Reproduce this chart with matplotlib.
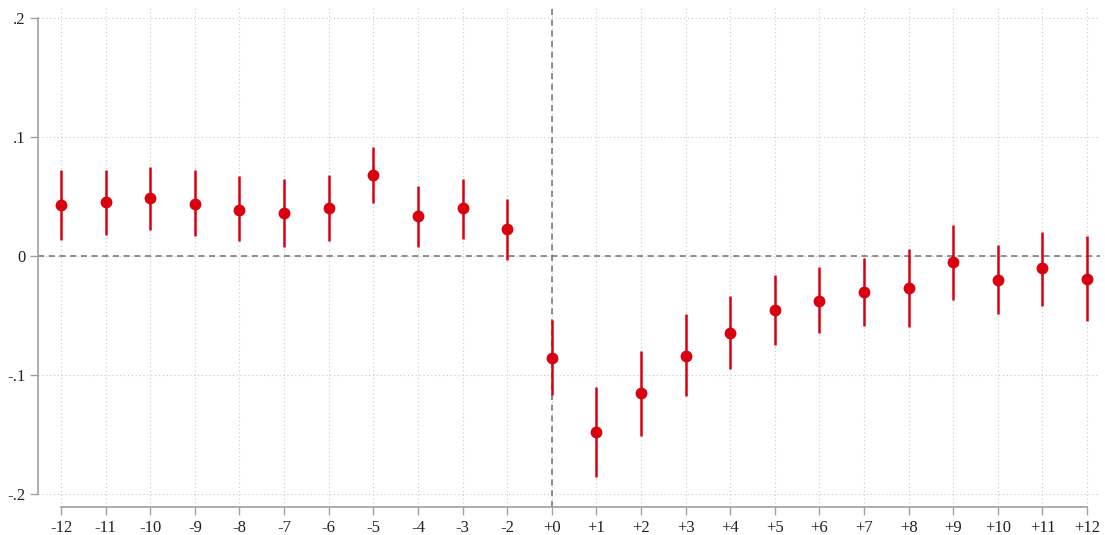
import matplotlib
matplotlib.use("Agg")
import matplotlib.pyplot as plt
import numpy as np

# event time labels (no -1, the reference period)
labels = ["-12", "-11", "-10", "-9", "-8", "-7", "-6", "-5", "-4", "-3", "-2",
          "+0", "+1", "+2", "+3", "+4", "+5", "+6", "+7", "+8", "+9", "+10", "+11", "+12"]
coef = [0.0427, 0.045, 0.0485, 0.044, 0.039, 0.036, 0.040, 0.068, 0.0335, 0.040, 0.0226,
        -0.086, -0.148, -0.1155, -0.0837, -0.0644, -0.045, -0.0377, -0.030, -0.0268,
        -0.005, -0.020, -0.010, -0.019]
ci_hi = [0.072, 0.072, 0.075, 0.072, 0.067, 0.065, 0.068, 0.092, 0.059, 0.065, 0.048,
         -0.0536, -0.110, -0.080, -0.049, -0.0335, -0.016, -0.0092, -0.0017, 0.0059,
         0.026, 0.009, 0.020, 0.0167]
ci_lo = [0.0134, 0.0176, 0.0218, 0.0167, 0.0126, 0.0075, 0.0126, 0.0443, 0.0075, 0.014, -0.0033,
         -0.117, -0.186, -0.151, -0.118, -0.0946, -0.0745, -0.065, -0.0586, -0.060,
         -0.037, -0.049, -0.042, -0.055]
yticks = [-0.2, -0.1, 0, 0.1, 0.2]
ytick_labels = ["-.2", "-.1", "0", ".1", ".2"]

plt.rcParams['font.family'] = ['Liberation Serif', 'DejaVu Serif']

x = np.arange(len(labels))
red = "#d9000f"
grey = "#a0a0a0"

fig = plt.figure(figsize=(11.05, 5.35), dpi=100)
ax = fig.add_axes([38 / 1105, 28 / 535, (1100 - 38) / 1105, (527 - 28) / 535])

ax.set_xlim(-0.516, 23.29)
ax.set_ylim(-0.2109, 0.2084)

ax.grid(True, color="#c8c8c8", linestyle=(0, (1, 2.5)), linewidth=0.8)
ax.set_axisbelow(True)

ax.axhline(0, color="#707070", linestyle=(0, (4, 3)), linewidth=1.1, zorder=1)
ax.axvline(labels.index("+0"), color="#707070", linestyle=(0, (4, 3)), linewidth=1.1, zorder=1)

ax.vlines(x, ci_lo, ci_hi, color=red, linewidth=1.8, zorder=3)
ax.plot(x, coef, "o", color=red, markersize=7.5, zorder=4)

ax.set_xticks(x)
ax.set_xticklabels(labels)
ax.set_yticks(yticks)
ax.set_yticklabels(ytick_labels)

for s in ["top", "right"]:
    ax.spines[s].set_visible(False)
ax.spines["left"].set_bounds(-0.2, 0.2)
ax.spines["bottom"].set_bounds(0, len(labels) - 1)
for s in ["left", "bottom"]:
    ax.spines[s].set_color(grey)
    ax.spines[s].set_linewidth(1.2)
ax.tick_params(axis="both", direction="out", length=6, width=1.0, color=grey,
               labelsize=12, labelcolor="#222222", pad=3)

fig.savefig("out.png", dpi=100)
